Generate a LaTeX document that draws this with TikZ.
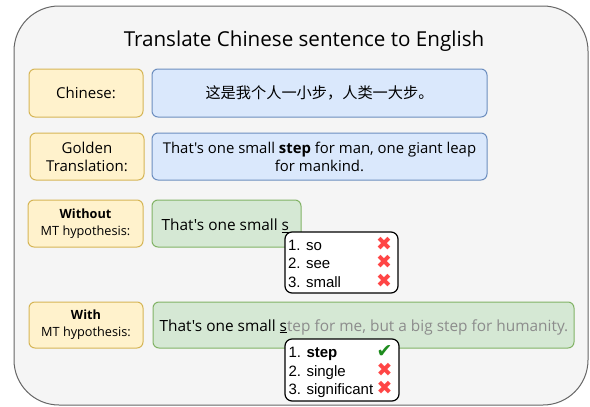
\documentclass[tikz,border=0pt]{standalone}
\usepackage{fontspec}
\setmainfont{Open Sans}[Ligatures=TeXOff]
\newfontfamily\cjkfont{Noto Sans CJK SC}
\newfontfamily\arialfont{Liberation Sans}
\newfontfamily\symfont{DejaVu Sans}
\usetikzlibrary{positioning}
\definecolor{bgfill}{HTML}{F5F5F5}
\definecolor{bgline}{HTML}{666666}
\definecolor{yfill}{HTML}{FFF2CC}
\definecolor{yline}{HTML}{D6B656}
\definecolor{bfill}{HTML}{DAE8FC}
\definecolor{bline}{HTML}{6C8EBF}
\definecolor{gfill}{HTML}{D5E8D4}
\definecolor{gline}{HTML}{82B366}
\definecolor{xred}{HTML}{FF4545}
\definecolor{okgreen}{HTML}{1E8C1E}
\definecolor{hypgray}{HTML}{8C8C8C}
\newcommand{\xmk}{\makebox[16pt]{\symfont\color{xred}\fontsize{19}{18}\selectfont ✖}}
\newcommand{\okmk}{\makebox[16pt]{\symfont\color{okgreen}\fontsize{19}{18}\selectfont ✔}}
\tikzset{
  labelbox/.style={draw=yline, fill=yfill, line width=1pt, rounded corners=6pt, inner sep=0pt, align=center, font=\fontsize{15}{18}\selectfont},
  bluebox/.style={draw=bline, fill=bfill, line width=1pt, rounded corners=6pt, inner sep=0pt, align=center, font=\fontsize{14.9}{18}\selectfont},
  greenbox/.style={draw=gline, fill=gfill, line width=1pt, rounded corners=6pt, inner sep=0pt},
  popup/.style={draw=black, fill=white, line width=1.2pt, rounded corners=7pt, inner sep=0pt},
  poptext/.style={inner sep=0pt, font=\arialfont\fontsize{15}{18}\selectfont},
  hyptext/.style={anchor=west, inner sep=0pt, font=\fontsize{15.4}{18}\selectfont},
  smalllabel/.style={labelbox, font=\fontsize{12.7}{17}\selectfont},
}
\begin{document}
\begin{tikzpicture}[x=1pt,y=-1pt]
\useasboundingbox (0,0) rectangle (590,407);
\draw[fill=bgfill, draw=bgline, line width=1pt, rounded corners=45pt] (14,6) rectangle (588,405);
\node[font=\fontsize{20.6}{24}\selectfont] (title) at (304,41) {Translate Chinese sentence to English};
% row 1
\node[labelbox, minimum width=114pt, minimum height=48pt] (lab1) at (86,93) {Chinese:};
\node[bluebox, minimum width=335pt, minimum height=48pt, font=\cjkfont\fontsize{15.2}{17}\selectfont] (src) at (319.5,93) {这是我个人一小步，人类一大步。};
% row 2
\node[labelbox, minimum width=114pt, minimum height=47pt] (lab2) at (87,156.5) {Golden\\Translation:};
\node[bluebox, minimum width=335pt, minimum height=47pt] (gold) at (319.5,156.5) {That's one small \textbf{step} for man, one giant leap\\for mankind.};
% row 3
\node[smalllabel, minimum width=115pt, minimum height=47pt] (lab3) at (85.5,223.5) {\textbf{Without}\\MT hypothesis:};
\node[greenbox, minimum width=149pt, minimum height=47pt] (hyp1) at (226.5,223.5) {};
\node[hyptext] (hyp1t) at ([xshift=10pt,yshift=-2pt]hyp1.west) {That's one small \underline{s}};
\node[popup, minimum width=113pt, minimum height=61pt] (pop1) at (341.5,262.5) {};
\node[poptext] (pop1t) at ([yshift=-2.5pt]pop1.center) {\begin{tabular}{@{}p{88pt}@{}c@{\hspace{3pt}}}1. so & \xmk\\ 2. see & \xmk\\ 3. small & \xmk\end{tabular}};
% row 4
\node[smalllabel, minimum width=114pt, minimum height=46pt] (lab4) at (86,325) {\textbf{With}\\MT hypothesis:};
\node[greenbox, minimum width=421pt, minimum height=46pt] (hyp2) at (363.5,325) {};
\node[hyptext] (hyp2t) at ([xshift=7pt,yshift=-2pt]hyp2.west) {That's one small \underline{s}\textcolor{hypgray}{tep for me, but a big step for humanity.}};
\node[popup, minimum width=114pt, minimum height=62pt] (pop2) at (342,370) {};
\node[poptext] (pop2t) at ([yshift=-2.5pt]pop2.center) {\begin{tabular}{@{}p{88pt}@{}c@{\hspace{3pt}}}1. \textbf{step} & \okmk\\ 2. single & \xmk\\ 3. significant & \xmk\end{tabular}};
\end{tikzpicture}
\end{document}
